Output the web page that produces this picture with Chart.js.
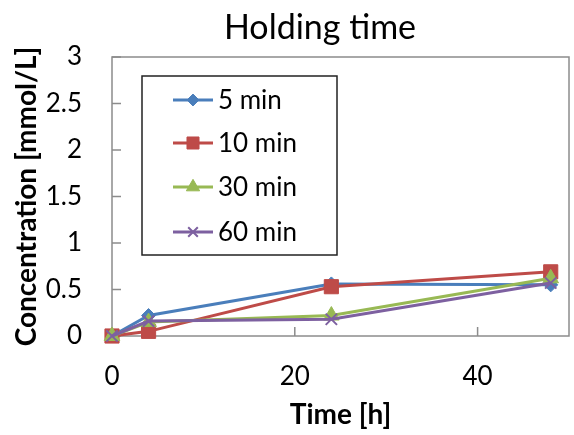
<!DOCTYPE html>
<html>
<head>
<meta charset="utf-8">
<script src="https://cdn.jsdelivr.net/npm/chart.js@4/dist/chart.umd.min.js"></script>
<style>
html,body{margin:0;padding:0;background:#fff;overflow:hidden;width:574px;height:435px;}
#wrap{position:relative;width:580px;height:435px;}
</style>
</head>
<body>
<div id="wrap"><canvas id="c" width="580" height="435"></canvas></div>
<script>
// ---- data ----
const timeHours = [0, 4, 24, 48];
const seriesNames = ['5 min', '10 min', '30 min', '60 min'];
const conc5 = [0, 0.22, 0.56, 0.55];
const conc10 = [0, 0.05, 0.53, 0.69];
const conc30 = [0, 0.15, 0.22, 0.62];
const conc60 = [0, 0.16, 0.18, 0.57];
const yTickLabels = ['0', '0.5', '1', '1.5', '2', '2.5', '3'];
const xTickLabels = ['0', '20', '40'];
const chartTitle = 'Holding time';
const xTitle = 'Time [h]';
const yTitle = 'Concentration [mmol/L]';

const colors = ['#4A7EBB', '#BE4B48', '#98B954', '#7D60A0'];
const styles = [
  {pointStyle: 'rectRot', radius: 7, borderWidth: 1},
  {pointStyle: 'rect', radius: 10, borderWidth: 1},
  {pointStyle: 'triangle', radius: 9, borderWidth: 1},
  {pointStyle: 'crossRot', radius: 8, borderWidth: 2}
];
const allSeries = [conc5, conc10, conc30, conc60];

const datasets = allSeries.map((vals, i) => ({
  label: seriesNames[i],
  data: timeHours.map((t, j) => ({x: t, y: vals[j]})),
  borderColor: colors[i],
  backgroundColor: colors[i],
  borderWidth: 3,
  pointStyle: styles[i].pointStyle,
  pointRadius: styles[i].radius,
  pointBorderWidth: styles[i].borderWidth,
  pointBackgroundColor: colors[i],
  pointBorderColor: colors[i],
  tension: 0,
  clip: false,
  order: 4 - i
}));

const FONT = 'Lato';

const framePlugin = {
  id: 'frame',
  beforeDatasetsDraw(chart) {
    const ctx = chart.ctx, a = chart.chartArea;
    ctx.save();
    ctx.strokeStyle = '#8c8c8c';
    ctx.lineWidth = 1.5;
    ctx.strokeRect(a.left, a.top, a.right - a.left, a.bottom - a.top);
    // inside tick marks
    const tl = 9;
    const ys = chart.scales.y, xs = chart.scales.x;
    ctx.beginPath();
    ys.ticks.forEach(t => {
      const py = ys.getPixelForValue(t.value);
      ctx.moveTo(a.left, py); ctx.lineTo(a.left + tl, py);
    });
    xs.ticks.forEach(t => {
      const px = xs.getPixelForValue(t.value);
      ctx.moveTo(px, a.bottom); ctx.lineTo(px, a.bottom - tl);
    });
    ctx.stroke();
    ctx.restore();
  },
  afterDraw(chart) {
    const ctx = chart.ctx;
    ctx.save();
    // title
    ctx.fillStyle = '#000';
    ctx.font = '34px ' + FONT;
    ctx.textAlign = 'center';
    ctx.textBaseline = 'middle';
    ctx.fillText(chartTitle, 320, 28);
    // legend box
    const bx = 142, by = 76, bw = 195, bh = 179;
    ctx.fillStyle = '#fff';
    ctx.fillRect(bx, by, bw, bh);
    ctx.strokeStyle = '#222';
    ctx.lineWidth = 1.5;
    ctx.strokeRect(bx, by, bw, bh);
    const rowY = [100, 143, 187, 232];
    chart.data.datasets.forEach((ds, i) => {
      const y = rowY[i];
      ctx.strokeStyle = ds.borderColor;
      ctx.lineWidth = 3;
      ctx.beginPath(); ctx.moveTo(173, y); ctx.lineTo(213, y); ctx.stroke();
      ctx.fillStyle = ds.pointBackgroundColor;
      ctx.strokeStyle = ds.pointBorderColor;
      ctx.lineWidth = ds.pointBorderWidth;
      Chart.helpers.drawPoint(ctx, {pointStyle: ds.pointStyle, radius: ds.pointRadius * 0.85, rotation: 0, borderWidth: ds.pointBorderWidth}, 193, y);
      ctx.fillStyle = '#000';
      ctx.font = '26px ' + FONT;
      ctx.textAlign = 'left';
      ctx.textBaseline = 'middle';
      ctx.fillText(ds.label, 218, y + 1);
    });
    ctx.restore();
  }
};

new Chart(document.getElementById('c'), {
  type: 'line',
  data: {datasets},
  plugins: [framePlugin],
  options: {
    responsive: false,
    animation: false,
    layout: {padding: {top: 57, right: 3, left: 0, bottom: 0}},
    plugins: {legend: {display: false}, title: {display: false}, tooltip: {enabled: false}},
    scales: {
      x: {
        type: 'linear', min: 0, max: 50,
        afterBuildTicks: s => { s.ticks = xTickLabels.map(v => ({value: Number(v)})); },
        ticks: {callback: (v) => xTickLabels.find(l => Number(l) === v) ?? '', color: '#000', font: {family: FONT, size: 26}, padding: 25, maxRotation: 0, autoSkip: false},
        grid: {display: false, drawTicks: false},
        border: {display: false},
        title: {display: true, text: xTitle, color: '#000', font: {family: FONT, size: 28, weight: 'bold'}, padding: {top: 0, bottom: 3}},
        afterFit: s => { s.height = 99; }
      },
      y: {
        type: 'linear', min: 0, max: 3,
        afterBuildTicks: s => { s.ticks = yTickLabels.map(v => ({value: Number(v)})); },
        ticks: {callback: (v) => yTickLabels.find(l => Number(l) === v) ?? '', color: '#000', font: {family: FONT, size: 26}, padding: 30, autoSkip: false},
        grid: {display: false, drawTicks: false},
        border: {display: false},
        title: {display: true, text: yTitle, color: '#000', font: {family: FONT, size: 28, weight: 'bold'}, padding: {top: 10, bottom: 0}},
        afterFit: s => { s.width = 112; }
      }
    }
  }
});
</script>
</body>
</html>
